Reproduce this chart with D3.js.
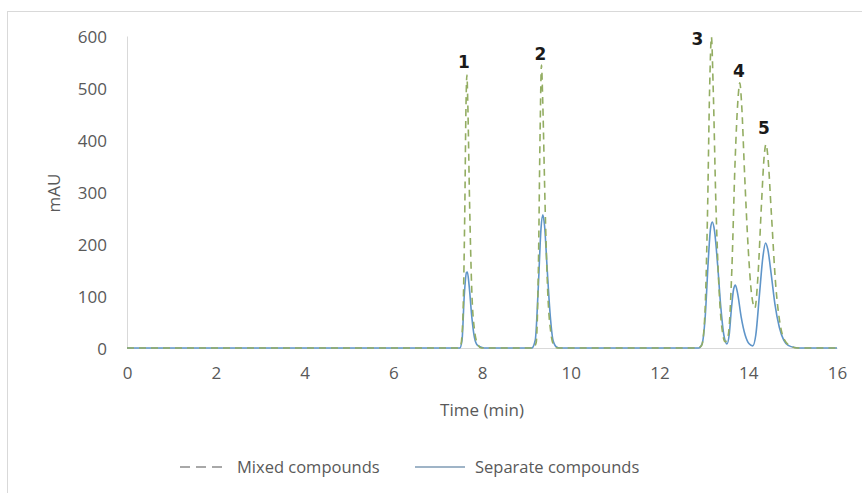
<!DOCTYPE html>
<html>
<head>
<meta charset="utf-8">
<script src="https://cdn.jsdelivr.net/npm/d3@7"></script>
<style>
  body { margin: 0; background: #fff; }
  svg { display: block; }
</style>
</head>
<body>
<svg width="862" height="493" font-family="'Open Sans', sans-serif"></svg>
<script>
// chromatogram readings (time in min, signal in mAU)
const mixedTime = [0, 7.45, 7.52, 7.57, 7.61, 7.64, 7.66, 7.68, 7.72, 7.77, 7.83, 7.9, 7.98,
  9.15, 9.22, 9.27, 9.31, 9.34, 9.37, 9.42, 9.48, 9.55, 9.62, 9.7,
  12.85, 12.95, 13.02, 13.08, 13.13, 13.17, 13.21, 13.27, 13.35, 13.42, 13.48, 13.55, 13.63, 13.7,
  13.77, 13.81, 13.85, 13.92, 14.0, 14.08, 14.15, 14.22, 14.3, 14.36, 14.4, 14.44, 14.52, 14.62,
  14.72, 14.82, 14.95, 15.1, 16];
const mixedMAU = [0, 0, 5, 60, 250, 470, 525, 470, 280, 110, 35, 8, 0,
  0, 10, 150, 420, 544, 470, 280, 110, 30, 5, 0,
  0, 5, 60, 250, 500, 598, 500, 280, 100, 30, 12, 25, 150, 350,
  480, 510, 470, 330, 190, 100, 77, 140, 280, 370, 392, 370, 260, 120,
  45, 15, 4, 0, 0];

const sepTime = [0, 7.5, 7.55, 7.6, 7.65, 7.67, 7.71, 7.77, 7.83, 7.9, 8.0, 8.1,
  9.12, 9.2, 9.27, 9.33, 9.37, 9.41, 9.47, 9.54, 9.6, 9.68, 9.75,
  12.88, 12.96, 13.03, 13.1, 13.15, 13.19, 13.24, 13.31, 13.38, 13.45, 13.52, 13.57, 13.62, 13.67,
  13.71, 13.76, 13.84, 13.93, 14.02, 14.1, 14.17, 14.25, 14.33, 14.39, 14.44, 14.52, 14.6, 14.7,
  14.8, 14.9, 15.05, 15.2, 16];
const sepMAU = [0, 0, 15, 100, 145, 146, 120, 60, 20, 5, 1, 0,
  0, 15, 120, 230, 256, 235, 150, 60, 15, 2, 0,
  0, 8, 60, 170, 230, 242, 225, 160, 80, 25, 8, 25, 75, 113,
  121, 105, 60, 25, 8, 4, 25, 100, 175, 202, 190, 140, 85, 40,
  15, 5, 1, 0, 0];

const peakNames = ["1", "2", "3", "4", "5"];
const peakTimes = [7.66, 9.34, 13.17, 13.81, 14.4];
const peakMAU = [525, 544, 598, 510, 392];

const xTicks = [0, 2, 4, 6, 8, 10, 12, 14, 16];
const yTicks = [0, 100, 200, 300, 400, 500, 600];

const svg = d3.select('svg');
const margin = {top: 36, left: 127};
const innerWidth = 837 - margin.left;
const innerHeight = 348 - margin.top;

// outer chart frame: only its top and left edges are inside the picture
svg.append('line').attr('x1', 7.5).attr('x2', 7.5).attr('y1', 11).attr('y2', 493)
  .attr('stroke', '#d9d9d9');
svg.append('line').attr('x1', 7).attr('x2', 862).attr('y1', 11.5).attr('y2', 11.5)
  .attr('stroke', '#d9d9d9');

const g = svg.append('g').attr('transform', `translate(${margin.left},${margin.top})`);

const x = d3.scaleLinear().domain([0, 16]).range([0, innerWidth]);
const y = d3.scaleLinear().domain([0, 600]).range([innerHeight, 0]);

const textCol = '#595959';

// y axis
const yAxis = g.append('g')
  .call(d3.axisLeft(y).tickValues(yTicks).tickSize(0).tickPadding(20))
  .attr('font-size', 17)
  .attr('font-family', "'Open Sans', sans-serif");
yAxis.select('.domain').attr('stroke', '#d9d9d9');
yAxis.selectAll('text').attr('fill', textCol).attr('dy', null).attr('y', 6);

// x axis
const xAxis = g.append('g').attr('transform', `translate(0,${innerHeight})`)
  .call(d3.axisBottom(x).tickValues(xTicks).tickSize(0).tickPadding(19))
  .attr('font-size', 17)
  .attr('font-family', "'Open Sans', sans-serif");
xAxis.select('.domain').attr('stroke', '#d9d9d9');
xAxis.selectAll('text').attr('fill', textCol).attr('dy', null).attr('y', 31);

// axis titles
svg.append('text')
  .attr('x', (margin.left + 837) / 2).attr('y', 416)
  .attr('text-anchor', 'middle').attr('fill', textCol).attr('font-size', 17)
  .text('Time (min)');
svg.append('text')
  .attr('transform', 'translate(60,193) rotate(-90)')
  .attr('text-anchor', 'middle').attr('fill', textCol).attr('font-size', 17)
  .text('mAU');

const mixed = mixedTime.map((t, i) => ({t: t, v: mixedMAU[i]}));
const separate = sepTime.map((t, i) => ({t: t, v: sepMAU[i]}));

const line = d3.line().x(d => x(d.t)).y(d => y(d.v)).curve(d3.curveMonotoneX);

const greenCol = '#93ad62';
const blueCol = '#5f95c9';

g.append('path').datum(separate)
  .attr('d', line).attr('fill', 'none')
  .attr('stroke', blueCol).attr('stroke-width', 1.6);

g.append('path').datum(mixed)
  .attr('d', line).attr('fill', 'none')
  .attr('stroke', greenCol).attr('stroke-width', 1.6)
  .attr('stroke-dasharray', '7,5');

// peak numbers
const labelShift = [[-3, -7], [-1, -5], [-14, 8], [-1, -6], [-2, -10]];
g.selectAll('.peak')
  .data(peakNames)
  .enter()
  .append('text')
  .attr('class', 'peak')
  .attr('x', (d, i) => x(peakTimes[i]) + labelShift[i][0])
  .attr('y', (d, i) => y(peakMAU[i]) + labelShift[i][1])
  .attr('text-anchor', 'middle')
  .attr('fill', '#1a1a1a')
  .attr('font-family', "'DejaVu Sans', sans-serif")
  .attr('font-weight', 'bold')
  .attr('font-size', 17)
  .text(d => d);

// legend
const legend = svg.append('g').attr('transform', 'translate(0,467)');
legend.append('line')
  .attr('x1', 180).attr('x2', 226).attr('y1', 0).attr('y2', 0)
  .attr('stroke', '#8c8c8c').attr('stroke-width', 1.5).attr('stroke-dasharray', '10,6');
legend.append('text').attr('x', 237).attr('y', 6)
  .attr('fill', textCol).attr('font-size', 16.5).text('Mixed compounds');
legend.append('line')
  .attr('x1', 415).attr('x2', 465).attr('y1', 0).attr('y2', 0)
  .attr('stroke', '#7f9bb5').attr('stroke-width', 1.5);
legend.append('text').attr('x', 475).attr('y', 6)
  .attr('fill', textCol).attr('font-size', 16.5).text('Separate compounds');
</script>
</body>
</html>
